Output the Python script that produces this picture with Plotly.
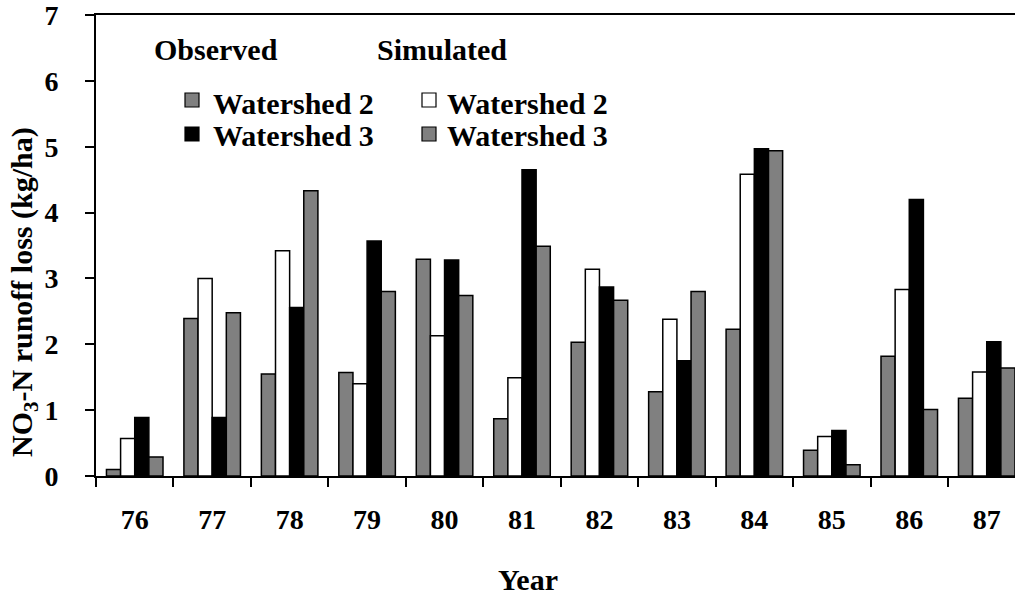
import plotly.graph_objects as go

years = ["76", "77", "78", "79", "80", "81", "82", "83", "84", "85", "86", "87"]
obs_w2 = [0.10, 2.39, 1.55, 1.57, 3.29, 0.87, 2.03, 1.28, 2.23, 0.39, 1.82, 1.18]
sim_w2 = [0.57, 3.00, 3.42, 1.40, 2.13, 1.49, 3.14, 2.38, 4.58, 0.60, 2.83, 1.58]
obs_w3 = [0.89, 0.89, 2.56, 3.57, 3.28, 4.65, 2.87, 1.75, 4.97, 0.69, 4.20, 2.04]
sim_w3 = [0.29, 2.48, 4.33, 2.80, 2.74, 3.49, 2.67, 2.80, 4.94, 0.17, 1.01, 1.64]
y_ticks = [0, 1, 2, 3, 4, 5, 6, 7]

GRAY = "#808080"
BLACK = "#000000"
WHITE = "#ffffff"
FONT = "Liberation Serif"

W, H = 1015, 596
ML, MR, MT, MB = 96, 0, 15, 120
PW, PH = W - ML - MR, H - MT - MB

def px(x):
    return (x - ML) / PW

def py(y):
    return (H - MB - y) / PH

series = [
    ("Observed Watershed 2", obs_w2, GRAY),
    ("Simulated Watershed 2", sim_w2, WHITE),
    ("Observed Watershed 3", obs_w3, BLACK),
    ("Simulated Watershed 3", sim_w3, GRAY),
]

fig = go.Figure()
for name, vals, col in series:
    fig.add_trace(go.Bar(
        x=years, y=vals, name=name, showlegend=False,
        marker=dict(color=col, line=dict(color="black", width=1.5)),
    ))

tfont = dict(family=FONT, size=30, color="black", weight="bold")

annotations = [
    dict(text="Observed", x=px(152), y=py(50)),
    dict(text="Simulated", x=px(375), y=py(50)),
    dict(text="Watershed 2", x=px(211), y=py(103)),
    dict(text="Watershed 3", x=px(211), y=py(135)),
    dict(text="Watershed 2", x=px(445), y=py(103)),
    dict(text="Watershed 3", x=px(445), y=py(135)),
]
for a in annotations:
    a.update(xref="paper", yref="paper", xanchor="left", yanchor="middle",
             showarrow=False, font=tfont)
annotations.append(dict(text="Year", x=px(528), y=py(579), xref="paper", yref="paper",
                        xanchor="center", yanchor="middle", showarrow=False, font=tfont))
annotations.append(dict(text="NO<sub>3</sub>-N runoff loss (kg/ha)", x=px(24), y=py(292),
                        xref="paper", yref="paper", xanchor="center", yanchor="middle",
                        textangle=-90, showarrow=False,
                        font=dict(family=FONT, size=30, color="black", weight="bold")))

swatches = [
    (185, 93, GRAY), (185, 127, BLACK), (422, 93, WHITE), (422, 127, GRAY),
]
shapes = []
for sx, sy, col in swatches:
    shapes.append(dict(type="rect", xref="paper", yref="paper",
                       x0=px(sx), x1=px(sx + 14), y0=py(sy), y1=py(sy + 14),
                       fillcolor=col, line=dict(color="black", width=1.2)))

fig.update_layout(
    width=W, height=H,
    margin=dict(l=ML, r=MR, t=MT, b=MB, autoexpand=False),
    paper_bgcolor="white", plot_bgcolor="white",
    barmode="group", bargap=0.27, bargroupgap=0,
    annotations=annotations, shapes=shapes,
    font=dict(family=FONT, color="black"),
)
fig.update_xaxes(
    type="category", range=[-0.5, 11.365],
    showline=True, linecolor="black", linewidth=2, mirror=True,
    ticks="outside", tickson="boundaries", ticklen=9, tickcolor="black", tickwidth=1.5,
    tickfont=dict(family=FONT, size=28, color="black", weight="bold"),
    ticklabelstandoff=17, ticklabeloverflow="allow", showgrid=False, zeroline=False,
)
fig.update_yaxes(
    range=[0, 7], tickvals=y_ticks,
    showline=True, linecolor="black", linewidth=2,
    ticks="outside", ticklen=9, tickcolor="black", tickwidth=1.5,
    tickfont=dict(family=FONT, size=28, color="black", weight="bold"),
    ticklabelstandoff=21, ticklabeloverflow="allow", showgrid=False, zeroline=False,
)

fig.write_html(
    "out.html",
    config={"displayModeBar": False},
    post_script="document.body.style.margin='0';document.body.style.overflow='hidden';",
)
